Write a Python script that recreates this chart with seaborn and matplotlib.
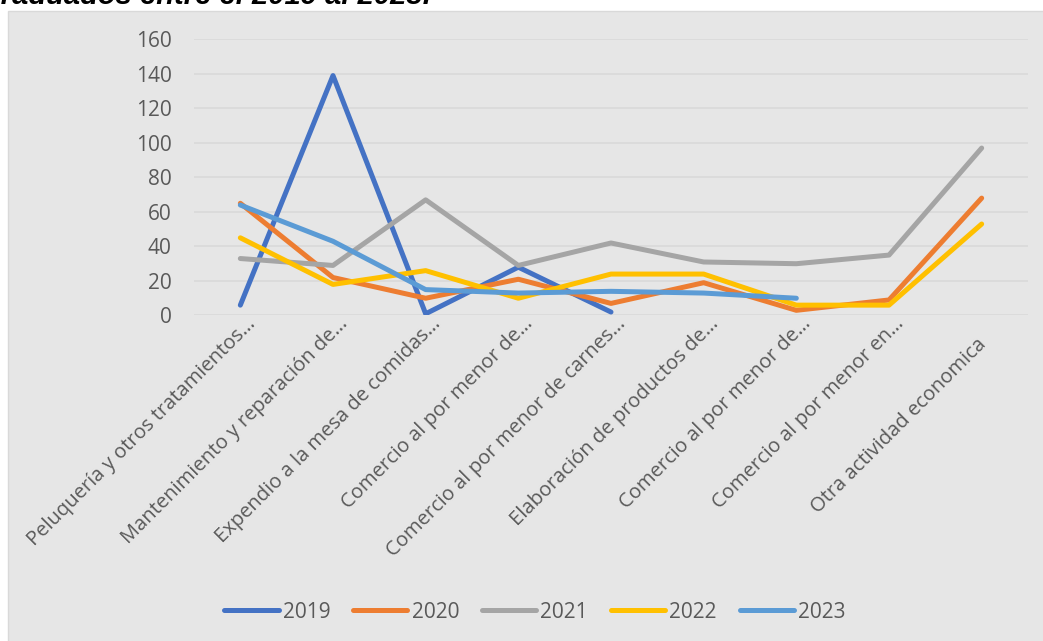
import numpy as np
import pandas as pd
import matplotlib
matplotlib.use("Agg")
import matplotlib.pyplot as plt
import matplotlib.transforms as mtransforms
import seaborn as sns
from matplotlib.patches import Rectangle
from matplotlib.lines import Line2D

# Actividades económicas (etiquetas recortadas como en el libro de origen)
categorias = [
    "Peluquería y otros tratamientos…",
    "Mantenimiento y reparación de…",
    "Expendio a la mesa de comidas…",
    "Comercio al por menor de…",
    "Comercio al por menor de carnes…",
    "Elaboración de productos de…",
    "Comercio al por menor de…",
    "Comercio al por menor en…",
    "Otra actividad economica",
]

anios = ["2019", "2020", "2021", "2022", "2023"]

v2019 = [6, 139, 1, 28, 2, np.nan, np.nan, np.nan, np.nan]
v2020 = [65, 22, 10, 21, 7, 19, 3, 9, 68]
v2021 = [33, 29, 67, 29, 42, 31, 30, 35, 97]
v2022 = [45, 18, 26, 10, 24, 24, 6, 6, 53]
v2023 = [64, 43, 15, 13, 14, 13, 10, np.nan, np.nan]

colores = ["#4472C4", "#ED7D31", "#A5A5A5", "#FFC000", "#5B9BD5"]
yticks = [0, 20, 40, 60, 80, 100, 120, 140, 160]

series = dict(zip(anios, [v2019, v2020, v2021, v2022, v2023]))
df = pd.DataFrame(
    [
        {"pos": i, "valor": v, "anio": a}
        for a, vals in series.items()
        for i, v in enumerate(vals)
    ]
).dropna()

sns.set_theme(style="white")
plt.rcParams["font.family"] = ["Open Sans", "DejaVu Sans"]

W, H = 1043, 641
fig = plt.figure(figsize=(W / 100, H / 100), dpi=100)
fig.patch.set_facecolor("white")

# Panel gris del área del gráfico
fig.patches.append(
    Rectangle((8 / W, -0.02), 1.0, 1 - 11 / H + 0.02,
              transform=fig.transFigure, facecolor="#E6E6E6",
              edgecolor="#D9D9D9", linewidth=1.0, zorder=-5)
)

# Título parcialmente visible en la parte superior
fig.text(-0.016, 1 - 4 / H, "graduados entre el 2019 al 2023.",
         fontsize=21, fontweight="bold", style="italic",
         family=["Liberation Sans", "DejaVu Sans"], color="black",
         va="baseline", ha="left", zorder=5)

ax = fig.add_axes([194 / W, 1 - 315.5 / H, (1028 - 194) / W, (315.5 - 39.3) / H])
ax.set_facecolor("none")
ax.set_zorder(2)

sns.lineplot(
    data=df, x="pos", y="valor", hue="anio", hue_order=anios,
    palette=colores, linewidth=3.6, sort=False, legend=False,
    estimator=None, ax=ax, solid_capstyle="round", zorder=3,
)

ax.set_xlim(-0.5, len(categorias) - 0.5)
ax.set_ylim(0, 160)
ax.set_yticks(yticks)
ax.set_yticklabels([str(t) for t in yticks], fontsize=15, color="#595959")
ax.tick_params(axis="y", length=0, pad=16)
ax.yaxis.grid(True, color="#D9D9D9", linewidth=1.2)
ax.set_axisbelow(True)

ax.set_xticks(range(len(categorias)))
ax.set_xticklabels(categorias, rotation=45, ha="right", va="center",
                   rotation_mode="anchor", fontsize=14.5, color="#595959")
ax.tick_params(axis="x", length=0, pad=14)
for lab in ax.get_xticklabels():
    if lab.get_text().endswith("…"):
        dx, dy = 12, 14
    else:
        dx, dy = 2, -7
    lab.set_transform(lab.get_transform() +
                      mtransforms.ScaledTranslation(dx / 100, dy / 100,
                                                    fig.dpi_scale_trans))
ax.set_xlabel("")
ax.set_ylabel("")
for s in ax.spines.values():
    s.set_visible(False)

handles = [Line2D([0], [0], color=c, lw=3.6, solid_capstyle="round")
           for c in colores]
fig.legend(handles, anios, loc="center", bbox_to_anchor=(535 / W, 1 - 612 / H),
           ncol=5, frameon=False, fontsize=15, labelcolor="#595959",
           handlelength=2.6, handletextpad=0.2, columnspacing=1.1)

fig.savefig("out.png", dpi=100, facecolor="white")
